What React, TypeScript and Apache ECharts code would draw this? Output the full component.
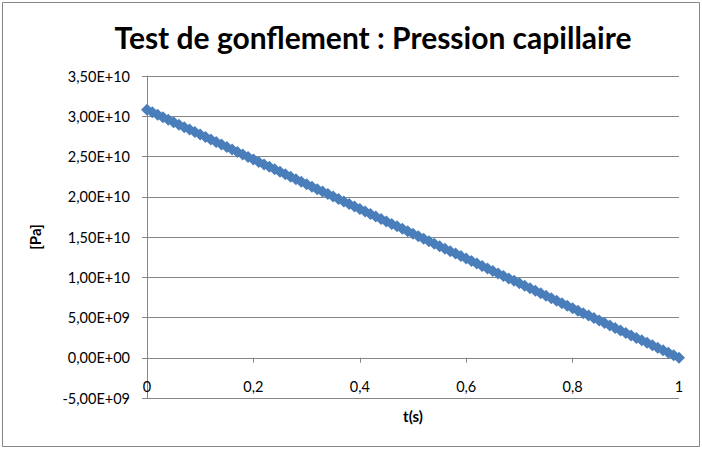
import React, { useEffect, useRef } from "react";
import * as echarts from "echarts";

const chartTitle = "Test de gonflement : Pression capillaire";
const xAxisTitle = "t(s)";
const yAxisTitle = "[Pa]";

const timeS = [
  0, 0.01, 0.02, 0.03, 0.04, 0.05, 0.06, 0.07, 0.08, 0.09,
  0.1, 0.11, 0.12, 0.13, 0.14, 0.15, 0.16, 0.17, 0.18, 0.19,
  0.2, 0.21, 0.22, 0.23, 0.24, 0.25, 0.26, 0.27, 0.28, 0.29,
  0.3, 0.31, 0.32, 0.33, 0.34, 0.35, 0.36, 0.37, 0.38, 0.39,
  0.4, 0.41, 0.42, 0.43, 0.44, 0.45, 0.46, 0.47, 0.48, 0.49,
  0.5, 0.51, 0.52, 0.53, 0.54, 0.55, 0.56, 0.57, 0.58, 0.59,
  0.6, 0.61, 0.62, 0.63, 0.64, 0.65, 0.66, 0.67, 0.68, 0.69,
  0.7, 0.71, 0.72, 0.73, 0.74, 0.75, 0.76, 0.77, 0.78, 0.79,
  0.8, 0.81, 0.82, 0.83, 0.84, 0.85, 0.86, 0.87, 0.88, 0.89,
  0.9, 0.91, 0.92, 0.93, 0.94, 0.95, 0.96, 0.97, 0.98, 0.99,
  1,
];

const pressurePa = [
  3.08e10, 3.049e10, 3.018e10, 2.988e10, 2.957e10, 2.926e10, 2.895e10, 2.864e10, 2.834e10, 2.803e10,
  2.772e10, 2.741e10, 2.71e10, 2.68e10, 2.649e10, 2.618e10, 2.587e10, 2.556e10, 2.526e10, 2.495e10,
  2.464e10, 2.433e10, 2.402e10, 2.372e10, 2.341e10, 2.31e10, 2.279e10, 2.248e10, 2.218e10, 2.187e10,
  2.156e10, 2.125e10, 2.094e10, 2.064e10, 2.033e10, 2.002e10, 1.971e10, 1.94e10, 1.91e10, 1.879e10,
  1.848e10, 1.817e10, 1.786e10, 1.756e10, 1.725e10, 1.694e10, 1.663e10, 1.632e10, 1.602e10, 1.571e10,
  1.54e10, 1.509e10, 1.478e10, 1.448e10, 1.417e10, 1.386e10, 1.355e10, 1.324e10, 1.294e10, 1.263e10,
  1.232e10, 1.201e10, 1.17e10, 1.14e10, 1.109e10, 1.078e10, 1.047e10, 1.016e10, 9.86e9, 9.55e9,
  9.24e9, 8.93e9, 8.62e9, 8.32e9, 8.01e9, 7.7e9, 7.39e9, 7.08e9, 6.78e9, 6.47e9,
  6.16e9, 5.85e9, 5.54e9, 5.24e9, 4.93e9, 4.62e9, 4.31e9, 4.0e9, 3.7e9, 3.39e9,
  3.08e9, 2.77e9, 2.46e9, 2.16e9, 1.85e9, 1.54e9, 1.23e9, 9.2e8, 6.2e8, 3.1e8,
  0,
];

const yMin = -5e9;
const yMax = 3.5e10;
const yStep = 5e9;
const xMin = 0;
const xMax = 1;
const xStep = 0.2;

function sci(v: number): string {
  if (v === 0) return "0,00E+00";
  const exp = Math.floor(Math.log10(Math.abs(v)) + 1e-9);
  const mant = v / Math.pow(10, exp);
  const e = Math.abs(exp);
  return (
    mant.toFixed(2).replace(".", ",") +
    "E" + (exp < 0 ? "-" : "+") + (e < 10 ? "0" + e : String(e))
  );
}

function dec(v: number): string {
  return String(Math.round(v * 10) / 10).replace(".", ",");
}

export default function App() {
  const ref = useRef<HTMLDivElement>(null);
  useEffect(() => {
    if (!ref.current) return;
    const chart = echarts.init(ref.current, null, { renderer: "svg" });
    const font = "Lato";
    const grey = "#868686";
    chart.setOption({
      animation: false,
      backgroundColor: "#ffffff",
      title: {
        text: chartTitle,
        left: 368,
        top: 17,
        textAlign: "center",
        textStyle: { fontFamily: font, fontSize: 30, fontWeight: "bold", color: "#000" },
      },
      grid: { left: 147, right: 23, top: 76, bottom: 51, containLabel: false, outerBoundsMode: "none" },
      xAxis: {
        type: "value",
        min: xMin,
        max: xMax,
        interval: xStep,
        name: xAxisTitle,
        nameLocation: "middle",
        nameGap: 10,
        nameTextStyle: { fontFamily: font, fontSize: 15, fontWeight: "bold", color: "#000" },
        axisLine: { show: true, onZero: true, lineStyle: { color: grey, width: 1 } },
        axisTick: { show: true, inside: false, length: 5, lineStyle: { color: grey } },
        axisLabel: { fontFamily: font, fontSize: 14.5, color: "#000", margin: -19, formatter: dec },
        splitLine: { show: false },
      },
      yAxis: {
        type: "value",
        min: yMin,
        max: yMax,
        interval: yStep,
        name: yAxisTitle,
        nameLocation: "middle",
        nameGap: 105,
        nameRotate: 90,
        nameTextStyle: { fontFamily: font, fontSize: 15, fontWeight: "bold", color: "#000" },
        axisLine: { show: true, lineStyle: { color: grey, width: 1 } },
        axisTick: { show: true, inside: false, length: 5, lineStyle: { color: grey } },
        axisLabel: { fontFamily: font, fontSize: 14.5, color: "#000", margin: 17, formatter: sci },
        splitLine: { show: true, lineStyle: { color: grey, width: 1 } },
      },
      series: [
        {
          type: "line",
          data: timeS.map((t, i) => [t, pressurePa[i]]),
          symbol: "diamond",
          symbolSize: 12,
          showSymbol: true,
          itemStyle: { color: "#4a7ebb" },
          lineStyle: { color: "#4a7ebb", width: 2 },
        },
      ],
      graphic: [
        {
          type: "rect",
          shape: { x: 2.5, y: 2.5, width: 697, height: 444 },
          style: { fill: "none", stroke: grey, lineWidth: 1 },
          silent: true,
        },
      ],
    });
    return () => chart.dispose();
  }, []);
  return (
    <div
      ref={ref}
      style={{ position: "fixed", left: 0, top: 0, width: 702, height: 449 }}
    />
  );
}
